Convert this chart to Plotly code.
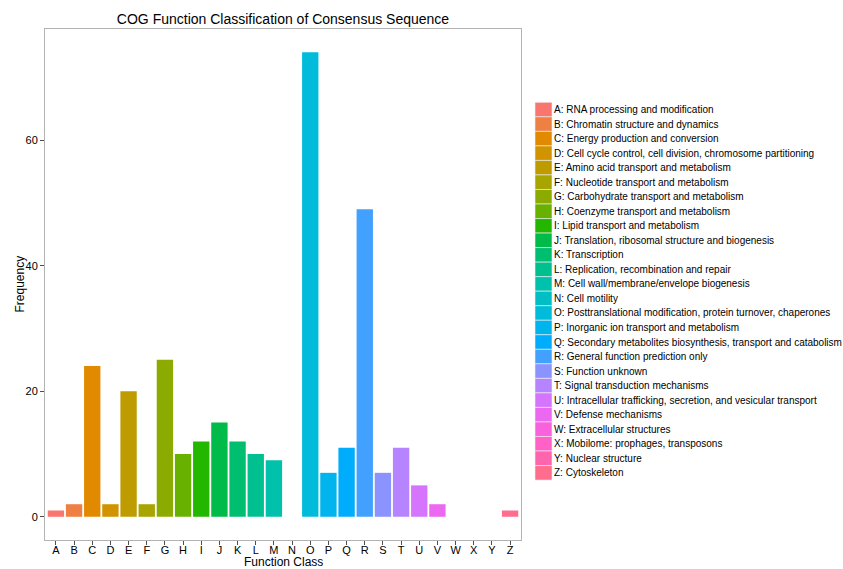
import math
import plotly.graph_objects as go

categories = list("ABCDEFGHIJKLMNOPQRSTUVWXYZ")
frequency = [1, 2, 24, 2, 20, 2, 25, 10, 12, 15, 12, 10, 9, 0, 74, 7, 11, 49, 7, 11, 5, 2, 0, 0, 0, 1]
descriptions = [
    "A: RNA processing and modification",
    "B: Chromatin structure and dynamics",
    "C: Energy production and conversion",
    "D: Cell cycle control, cell division, chromosome partitioning",
    "E: Amino acid transport and metabolism",
    "F: Nucleotide transport and metabolism",
    "G: Carbohydrate transport and metabolism",
    "H: Coenzyme transport and metabolism",
    "I: Lipid transport and metabolism",
    "J: Translation, ribosomal structure and biogenesis",
    "K: Transcription",
    "L: Replication, recombination and repair",
    "M: Cell wall/membrane/envelope biogenesis",
    "N: Cell motility",
    "O: Posttranslational modification, protein turnover, chaperones",
    "P: Inorganic ion transport and metabolism",
    "Q: Secondary metabolites biosynthesis, transport and catabolism",
    "R: General function prediction only",
    "S: Function unknown",
    "T: Signal transduction mechanisms",
    "U: Intracellular trafficking, secretion, and vesicular transport",
    "V: Defense mechanisms",
    "W: Extracellular structures",
    "X: Mobilome: prophages, transposons",
    "Y: Nuclear structure",
    "Z: Cytoskeleton",
]
y_ticks = [0, 20, 40, 60]


def hcl_hex(h, c, l):
    WY, Wu, Wv = 100.0, 0.1978398, 0.4683363
    hr = math.radians(h)
    U, V = c * math.cos(hr), c * math.sin(hr)
    Y = WY * (((l + 16) / 116) ** 3 if l > 7.999592 else l / 903.3)
    u = U / (13 * l) + Wu
    v = V / (13 * l) + Wv
    X = 9.0 * Y * u / (4 * v)
    Z = -X / 3 - 5 * Y + 3 * Y / v

    def g(t):
        t = t / WY
        t = 1.055 * t ** (1 / 2.4) - 0.055 if t > 0.00304 else 12.92 * t
        return max(0, min(255, round(t * 255)))

    r = g(3.240479 * X - 1.537150 * Y - 0.498535 * Z)
    gg = g(-0.969256 * X + 1.875992 * Y + 0.041556 * Z)
    b = g(0.055648 * X - 0.204043 * Y + 1.057311 * Z)
    return "#%02X%02X%02X" % (r, gg, b)


n = len(categories)
colors = [hcl_hex(15 + i * 360 / n, 100, 65) for i in range(n)]

FONT = "Liberation Sans, Arial, Helvetica, sans-serif"
W, H = 843, 569
L_, R_, T_, B_ = 45, 521, 29, 540

fig = go.Figure(
    go.Bar(
        x=categories,
        y=frequency,
        marker=dict(color=colors, line=dict(width=0)),
        width=0.9,
        showlegend=False,
    )
)


def px2paper(px, py):
    return (px - L_) / (R_ - L_), (B_ - py) / (B_ - T_)


# manual legend (ggplot style, compact keys)
key_x0, key_x1 = 535, 552
top = 102.3
step = 14.53
shapes = []
annotations = []
for i, (col, txt) in enumerate(zip(colors, descriptions)):
    y0 = top + i * step
    y1 = y0 + step
    ax0, ay0 = px2paper(key_x0, y1)
    ax1, ay1 = px2paper(key_x1, y0)
    shapes.append(dict(type="rect", xref="paper", yref="paper", x0=ax0, x1=ax1, y0=ay0, y1=ay1,
                       fillcolor=col, line=dict(color="#F2F2F2", width=0.6), layer="above"))
    tx, ty = px2paper(552, (y0 + y1) / 2)
    annotations.append(dict(xref="paper", yref="paper", x=tx, y=ty, text=txt, showarrow=False,
                            xanchor="left", yanchor="middle", font=dict(size=10, color="black", family=FONT)))

# axis titles
xt_x, xt_y = px2paper((L_ + R_) / 2, 569)
annotations.append(dict(xref="paper", yref="paper", x=xt_x, y=xt_y, text="Function Class", showarrow=False,
                        xanchor="center", yanchor="bottom", borderpad=0, height=13, valign="middle",
                        font=dict(size=12, color="black", family=FONT)))
yt_x, yt_y = px2paper(19, (T_ + B_) / 2)
annotations.append(dict(xref="paper", yref="paper", x=yt_x, y=yt_y, text="Frequency", showarrow=False,
                        textangle=-90, xanchor="center", yanchor="middle",
                        font=dict(size=12, color="black", family=FONT)))

fig.update_layout(
    width=W, height=H,
    margin=dict(l=L_, r=W - R_, t=T_, b=H - B_, autoexpand=False),
    paper_bgcolor="white", plot_bgcolor="white",
    font=dict(family=FONT, color="black"),
    title=dict(text="COG Function Classification of Consensus Sequence", x=(L_ + R_) / 2 / W,
               xanchor="center", y=1 - 19 / H, yanchor="middle", font=dict(size=14, color="black")),
    shapes=shapes,
    annotations=annotations,
    bargap=0.1,
)
fig.update_xaxes(
    type="category", categoryorder="array", categoryarray=categories,
    range=[-0.6, n - 1 + 0.6], automargin=False,
    showline=True, mirror=True, linecolor="#B3B3B3", linewidth=1,
    ticks="outside", ticklen=4, tickcolor="#4D4D4D", tickwidth=1,
    showgrid=False, zeroline=False, ticklabelstandoff=-4,
    tickfont=dict(size=11, color="black"),
)
fig.update_yaxes(
    range=[-3.7, 77.7], automargin=False,
    tickvals=y_ticks,
    showline=True, mirror=True, linecolor="#B3B3B3", linewidth=1,
    ticks="outside", ticklen=4, tickcolor="#4D4D4D", tickwidth=1,
    showgrid=False, zeroline=False,
    tickfont=dict(size=11, color="black"),
)

fig.write_html("out.html", config={"displayModeBar": False},
               post_script="document.body.style.margin='0';document.body.style.overflow='hidden';")
